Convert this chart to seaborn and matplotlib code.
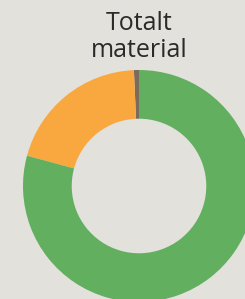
import matplotlib
matplotlib.use("Agg")
import matplotlib.pyplot as plt
import seaborn as sns

# Andel av totalt material
labels = ["Övrigt", "Orange", "Grönt"]
values = [0.7, 20.1, 79.2]
colors = ["#7a6b5c", "#f9a83f", "#62af5f"]

bg = "#e2e1dc"
sns.set_theme(style="white", rc={"figure.facecolor": bg, "axes.facecolor": bg})
plt.rcParams['font.family'] = ['Open Sans', 'DejaVu Sans']

fig = plt.figure(figsize=(2.45, 2.99), dpi=100)
ax = fig.add_axes([0, 0, 1, 1])

ax.pie(values, colors=sns.color_palette(colors), startangle=90, counterclock=True,
       radius=1.0, wedgeprops=dict(width=0.42, edgecolor="none"))

# donut placement: centre at (139, 186) px, radius 116 px
ax.set_xlim(-139 / 116, (245 - 139) / 116)
ax.set_ylim(-(299 - 186) / 116, 186 / 116)
ax.set_axis_off()

fig.text(139 / 245, 1 - 30 / 299, "Totalt", ha="center", va="baseline",
         fontsize=18, color="#2a2a2a")
fig.text(139 / 245, 1 - 57 / 299, "material", ha="center", va="baseline",
         fontsize=18, color="#2a2a2a")

fig.savefig("out.png", dpi=100, facecolor=bg)
